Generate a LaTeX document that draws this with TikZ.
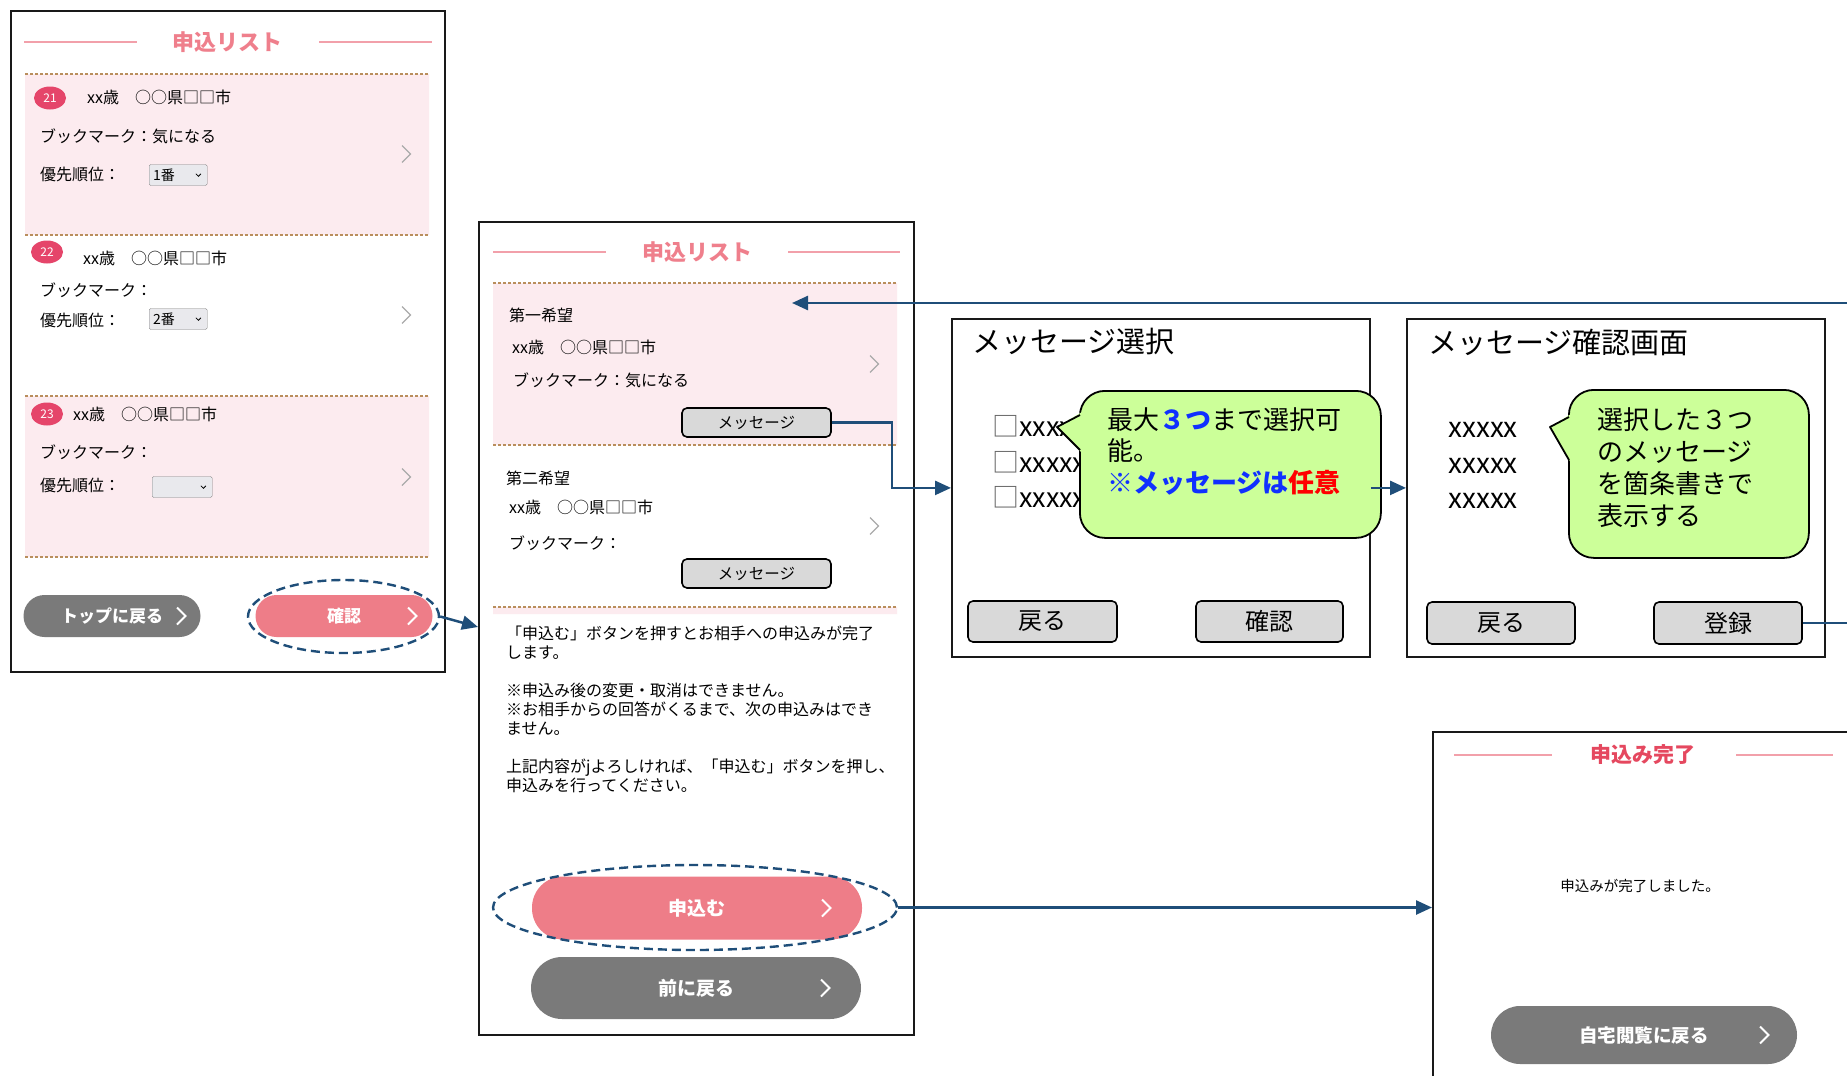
\documentclass[tikz,border=0pt]{standalone}
\usepackage{fontspec}
\setmainfont{Noto Sans CJK JP}
\usetikzlibrary{arrows.meta,calc,shapes.geometric}
\definecolor{blush}{HTML}{FCEBEF}
\definecolor{ttlpink}{HTML}{EF7F8C}
\definecolor{donered}{HTML}{E5485F}
\definecolor{rulepink}{HTML}{F2A0AA}
\definecolor{btnpink}{HTML}{EE7D88}
\definecolor{btngray}{HTML}{7A7A7A}
\definecolor{badgered}{HTML}{E5456A}
\definecolor{dotbrown}{HTML}{B98E5C}
\definecolor{flow}{HTML}{1F4E79}
\definecolor{callg}{HTML}{CCFF99}
\definecolor{keygray}{HTML}{D9D9D9}
\definecolor{chevgray}{HTML}{AAAAAA}
\definecolor{selfill}{HTML}{E9E9ED}
\definecolor{hiblue}{HTML}{1030FF}
\tikzset{
  screen/.style={draw=black!90, line width=1.8pt, anchor=north west, inner sep=0},
  ttl/.style={text=ttlpink, font=\bfseries\fontsize{22}{22}\selectfont, inner sep=0},
  pinkrule/.style={draw=rulepink, line width=1.5pt},
  cutline/.style={draw=dotbrown, line width=1.2pt, dash pattern=on 3pt off 2pt},
  txt/.style={anchor=west, inner sep=0, font=\fontsize{16}{19}\selectfont},
  badge/.style={ellipse, fill=badgered, text=white, minimum width=32, minimum height=23, inner sep=0, font=\fontsize{12}{12}\selectfont},
  selbox/.style={draw=black!50, fill=selfill, rounded corners=1.5, text width=50, inner xsep=4, inner ysep=0, minimum height=21, align=left, anchor=west, font=\fontsize{14}{14}\selectfont},
  pill/.style={text=white, inner sep=0, font=\bfseries\fontsize{17}{17}\selectfont},
  softkey/.style={draw=black, fill=keygray, line width=1.6pt, rounded corners=5, inner sep=0},
  bubble/.style={draw=black, fill=callg, line width=1.8pt, rounded corners=25},
  ring/.style={ellipse, draw=flow, line width=2.4pt, dash pattern=on 9pt off 5pt, inner sep=0},
  link/.style={draw=flow, line width=2.5pt, -{Triangle[length=16pt,width=14pt]}},
  chev/.pic={\draw (-4,-8.5) -- (4.5,0) -- (-4,8.5);},
  drop/.pic={\draw[line width=.8pt] (-2.5,-1.2) -- (0,1.3) -- (2.5,-1.2);}
}
\begin{document}
\begin{tikzpicture}[x=1pt,y=-1pt]
  \clip (0,0) rectangle (1847,1076);
  \fill[white] (0,0) rectangle (1847,1076);
  \begin{scope}
    \node[screen, minimum width=434, minimum height=661] (list) at (10,10) {};
    \node[ttl] (listttl) at (227,42) {申込リスト};
    \draw[pinkrule] (24,42) -- (137,42) (319,42) -- (432,42);
    \fill[blush] (25,74) rectangle (429,235) (25,396) rectangle (429,557);
    \draw[cutline] (25,74) -- (429,74) (25,235) -- (429,235)
          (25,396) -- (429,396) (25,557) -- (429,557);
    \node[badge] (n21) at (50,98) {21};
    \node[txt] (who21) at (87,97) {xx歳　○○県□□市};
    \node[txt] (bm21) at (40,136) {ブックマーク：気になる};
    \node[txt] (pr21) at (40,174) {優先順位：};
    \node[selbox] (sel21) at (149,175) {1番};
    \pic at ($(sel21.east)+(-9,0)$) {drop};
    \pic[color=chevgray, line width=1.2pt] at (406,154) {chev};
    \node[badge] (n22) at (47,252) {22};
    \node[txt] (who22) at (83,258) {xx歳　○○県□□市};
    \node[txt] (bm22) at (40,290) {ブックマーク：};
    \node[txt] (pr22) at (40,320) {優先順位：};
    \node[selbox] (sel22) at (149,319) {2番};
    \pic at ($(sel22.east)+(-9,0)$) {drop};
    \pic[color=chevgray, line width=1.2pt] at (406,315) {chev};
    \node[badge] (n23) at (47,414) {23};
    \node[txt] (who23) at (73,414) {xx歳　○○県□□市};
    \node[txt] (bm23) at (40,452) {ブックマーク：};
    \node[txt] (pr23) at (40,485) {優先順位：};
    \node[selbox, text width=52] (sel23) at (152,487) {};
    \pic at ($(sel23.east)+(-9,0)$) {drop};
    \pic[color=chevgray, line width=1.2pt] at (406,477) {chev};
    \node[pill, fill=btngray, minimum width=177, minimum height=42, rounded corners=21] (top) at (112,616) {トップに戻る};
    \pic[color=white, line width=2pt] at (181,616) {chev};
    \node[pill, fill=btnpink, minimum width=177, minimum height=42, rounded corners=21] (ok) at (344,616) {確認};
    \pic[color=white, line width=2pt] at (412,616) {chev};
    \node[ring, minimum width=191, minimum height=73] (ring1) at (343.5,616.5) {};
  \end{scope}
  \begin{scope}
    \node[screen, minimum width=435, minimum height=813] (apply) at (478,221) {};
    \node[ttl] (applyttl) at (697,252) {申込リスト};
    \draw[pinkrule] (493,252) -- (606,252) (788,252) -- (900,252);
    \fill[blush] (493,283) rectangle (897,445) (493,607) rectangle (897,614);
    \draw[cutline] (493,283) -- (897,283) (493,445) -- (897,445) (493,607) -- (897,607);
    \node[txt] (wish1) at (509,315) {第一希望};
    \node[txt] (who1) at (512,347) {xx歳　○○県□□市};
    \node[txt] (bm1) at (513,380) {ブックマーク：気になる};
    \pic[color=chevgray, line width=1.2pt] at (874,364) {chev};
    \node[softkey, minimum width=149, minimum height=29, font=\fontsize{15.5}{15.5}\selectfont] (msg1) at (756.5,422.5) {メッセージ};
    \node[txt] (wish2) at (506,478) {第二希望};
    \node[txt] (who2) at (509,507) {xx歳　○○県□□市};
    \node[txt] (bm2) at (509,543) {ブックマーク：};
    \pic[color=chevgray, line width=1.2pt] at (874,526) {chev};
    \node[softkey, minimum width=149, minimum height=29, font=\fontsize{15.5}{15.5}\selectfont] (msg2) at (756.5,573.5) {メッセージ};
    \node[txt, anchor=north west, align=left] (notice) at (506,626)
      {「申込む」ボタンを押すとお相手への申込みが完了\\します。\\[19pt]%
       ※申込み後の変更・取消はできません。\\※お相手からの回答がくるまで、次の申込みはでき\\ません。\\[19pt]%
       上記内容がjよろしければ、「申込む」ボタンを押し、\\申込みを行ってください。};
    \node[pill, fill=btnpink, minimum width=330, minimum height=63, rounded corners=31, font=\bfseries\fontsize{19}{19}\selectfont] (send) at (697,908) {申込む};
    \pic[color=white, line width=2pt] at (826,908) {chev};
    \node[ring, minimum width=404, minimum height=85] (ring2) at (695,907.5) {};
    \node[pill, fill=btngray, minimum width=330, minimum height=62, rounded corners=31, font=\bfseries\fontsize{19}{19}\selectfont] (prev) at (696,988) {前に戻る};
    \pic[color=white, line width=2pt] at (825,988) {chev};
    \coordinate (back) at (792,303);
  \end{scope}
  \begin{scope}
    \node[screen, minimum width=418, minimum height=338] (pick) at (951,318) {};
    \node[txt, font=\fontsize{29}{29}\selectfont] (pickttl) at (972,342) {メッセージ選択};
    \foreach \y/\n in {436/1,472/2,507/3}
      \node[txt, anchor=base west, font=\fontsize{27}{27}\selectfont] (opt\n) at (992,\y) {{\color{black!60}□}xxxxx};
    \node[bubble, minimum width=301, minimum height=147, anchor=north west] (tip1) at (1079,390) {};
    \fill[callg] (1082,412) -- (1057,427) -- (1082,453) -- cycle;
    \draw[line width=1.8pt, line join=round] (1080,415) -- (1057,427) -- (1080,450);
    \node[txt, anchor=north west, align=left, font=\fontsize{26}{31.5}\selectfont] (tip1txt) at (1107,407)
      {最大{\bfseries\color{hiblue}３つ}まで選択可\\能。\\{\bfseries\color{hiblue}※メッセージは}{\bfseries\color{red}任意}};
    \node[softkey, minimum width=149, minimum height=41, font=\fontsize{24}{24}\selectfont] (back1) at (1042.5,621.5) {戻る};
    \node[softkey, minimum width=147, minimum height=41, font=\fontsize{24}{24}\selectfont] (conf1) at (1269.5,621.5) {確認};
  \end{scope}
  \begin{scope}
    \node[screen, minimum width=418, minimum height=338] (check) at (1406,318) {};
    \node[txt, font=\fontsize{29}{29}\selectfont] (checkttl) at (1428,342) {メッセージ確認画面};
    \foreach \y/\n in {437/1,473/2,508/3}
      \node[txt, anchor=base west, font=\fontsize{28}{28}\selectfont] (line\n) at (1448,\y) {xxxxx};
    \node[bubble, minimum width=240, minimum height=168, anchor=north west] (tip2) at (1568,389) {};
    \fill[callg] (1571,414) -- (1550,427) -- (1571,463) -- cycle;
    \draw[line width=1.8pt, line join=round] (1569,417) -- (1550,427) -- (1569,460);
    \node[txt, anchor=north west, align=left, font=\fontsize{26}{32.3}\selectfont] (tip2txt) at (1597,407)
      {選択した３つ\\のメッセージ\\を箇条書きで\\表示する};
    \node[softkey, minimum width=148, minimum height=42, font=\fontsize{24}{24}\selectfont] (back2) at (1501,623) {戻る};
    \node[softkey, minimum width=148, minimum height=42, font=\fontsize{24}{24}\selectfont] (reg) at (1728,623) {登録};
  \end{scope}
  \begin{scope}
    \node[screen, minimum width=450, minimum height=400] (done) at (1432,731) {};
    \node[ttl, text=donered, font=\bfseries\fontsize{21}{21}\selectfont] (donettl) at (1643,755) {申込み完了};
    \draw[pinkrule] (1454,755) -- (1552,755) (1736,755) -- (1833,755);
    \node[txt, anchor=center, font=\fontsize{14.5}{14.5}\selectfont] (donetxt) at (1640,886) {申込みが完了しました。};
    \node[pill, fill=btngray, minimum width=306, minimum height=58, rounded corners=29, font=\bfseries\fontsize{18.5}{18.5}\selectfont] (home) at (1644,1035) {自宅閲覧に戻る};
    \pic[color=white, line width=2pt] at (1764,1035) {chev};
  \end{scope}
  \draw[link] (ring1.east) -- ($(apply.north west)+(0,406)$);
  \draw[link] (msg1.east) -- ++(60,0) |- (pick.west);
  \draw[link] (pick.east) -- (check.west);
  \draw[link] (reg.east) -- ++(80,0) |- (back);
  \draw[link] (ring2.east) -- (ring2.east -| done.west);
\end{tikzpicture}
\end{document}
